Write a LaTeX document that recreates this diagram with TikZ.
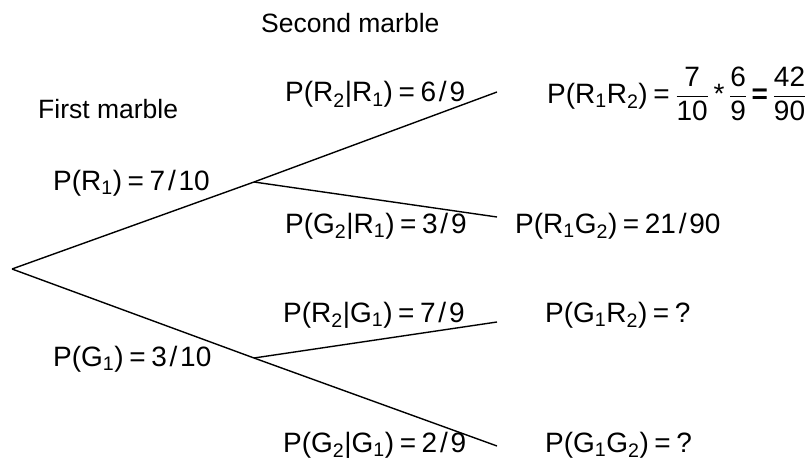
\documentclass[tikz,border=0pt]{standalone}
\usepackage{amsmath}
\usepackage{fontspec}
\setmainfont{Liberation Sans}
\usetikzlibrary{positioning}

\newcommand{\eqsp}{\hspace{0.2em}}
\newcommand{\slsp}{\hspace{0.1em}}
\newcommand{\sub}[1]{\textsubscript{#1}}

\begin{document}
\begin{tikzpicture}[x=1pt, y=-1pt,
  branch/.style={line width=1.4pt, line join=miter},
  eq/.style={font=\fontsize{28}{32}\selectfont, anchor=base west, inner sep=0pt},
  heading/.style={font=\fontsize{26.5}{30}\selectfont, anchor=base west, inner sep=0pt}]

\useasboundingbox (0,0) rectangle (812,460);

% --- Tree points ---
\coordinate (root) at (12, 269);
\coordinate (r1) at (254, 182);
\coordinate (g1) at (254, 358);
\coordinate (rr) at (497, 92);
\coordinate (rg) at (497, 217);
\coordinate (gr) at (497, 322);
\coordinate (gg) at (497, 446);

% Branches
\draw[branch] (root) -- (r1);
\draw[branch] (root) -- (g1);
\draw[branch] (r1) -- (rr);
\draw[branch] (r1) -- (rg);
\draw[branch] (g1) -- (gr);
\draw[branch] (g1) -- (gg);

% --- Headings ---
\node[heading] (second) at (261, 33) {Second marble};
\node[heading] (first) at (38, 118) {First marble};

% --- First draw ---
\node[eq] (pr1) at (53, 190) {P(R\sub{1})\eqsp=\eqsp7\slsp/\slsp10};
\node[eq] (pg1) at (53, 366) {P(G\sub{1})\eqsp=\eqsp3\slsp/\slsp10};

% --- Second draw ---
\node[eq] (prr) at (285, 102) {P(R\sub{2}|R\sub{1})\eqsp=\eqsp6\slsp/\slsp9};
\node[eq] (pgr) at (285, 233) {P(G\sub{2}|R\sub{1})\eqsp=\eqsp3\slsp/\slsp9};
\node[eq] (prg) at (283, 322) {P(R\sub{2}|G\sub{1})\eqsp=\eqsp7\slsp/\slsp9};
\node[eq] (pgg) at (283, 452) {P(G\sub{2}|G\sub{1})\eqsp=\eqsp2\slsp/\slsp9};

% --- Outcomes ---
\node[eq] (orr) at (547, 103)
  {P(R\sub{1}R\sub{2})\eqsp=\eqsp$\dfrac{\text{7}}{\text{10}}$\,*\,$\dfrac{\text{6}}{\text{9}}$\,\textbf{=}\,$\dfrac{\text{42}}{\text{90}}$};
\node[eq] (org) at (515, 233) {P(R\sub{1}G\sub{2})\eqsp=\eqsp21\slsp/\slsp90};
\node[eq] (ogr) at (545, 322) {P(G\sub{1}R\sub{2})\eqsp=\eqsp?};
\node[eq] (ogg) at (545, 452) {P(G\sub{1}G\sub{2})\eqsp=\eqsp?};

\end{tikzpicture}
\end{document}
